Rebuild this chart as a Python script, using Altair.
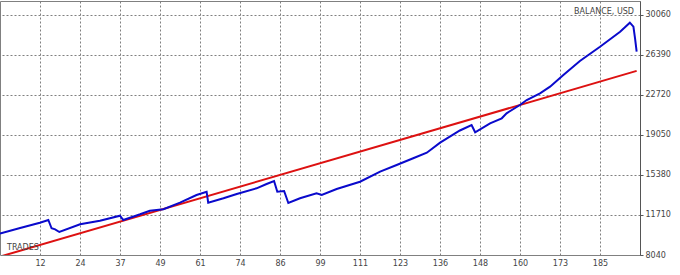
import altair as alt
import pandas as pd

# Balance curve (trade number, balance in USD)
trades = [0, 6.2, 12.3, 14.9, 15.9, 17.0, 18.3, 24.7, 30.8, 37.0, 38.0, 41.0, 43.2,
          46.2, 50.4, 55.5, 60.6, 63.7, 64.2, 68.9, 73.0, 79.1, 82.2, 84.5, 85.5,
          87.6, 88.9, 92.5, 97.6, 99.2, 103.8, 111.0, 117.2, 122.3, 127.4, 131.6,
          135.7, 141.8, 145.4, 146.5, 151.1, 154.7, 156.2, 160.3, 162.4, 166.5,
          169.6, 173.7, 178.8, 185.0, 191.2, 194.2, 195.3, 195.8, 196.3]
balance = [10000, 10517, 11004, 11251, 10490, 10398, 10150, 10857, 11187, 11646,
           11251, 11554, 11774, 12105, 12233, 12839, 13545, 13848, 12839, 13242,
           13637, 14160, 14554, 14830, 13848, 13912, 12811, 13242, 13701, 13545,
           14096, 14765, 15683, 16298, 16912, 17426, 18344, 19463, 19968, 19298,
           20123, 20582, 21041, 21803, 22261, 22876, 23482, 24555, 25840, 27152,
           28528, 29354, 28987, 27922, 26693]

# Linear trend line
trend_trades = [0, 196.3]
trend_balance = [7893, 24931]

# Axis ticks
x_tick_pos = [12.333 * k for k in range(1, 16)]
x_tick_labels = ["12", "24", "37", "49", "61", "74", "86", "99", "111", "123",
                 "136", "148", "160", "173", "185"]
y_ticks = [8040, 11710, 15380, 19050, 22720, 26390, 30060]

X_MAX = 197.33
Y_MIN, Y_MAX = 8040, 31344

bal_df = pd.DataFrame({"trade": trades, "balance": balance})
trend_df = pd.DataFrame({"trade": trend_trades, "balance": trend_balance})

label_expr = "[" + ",".join("'%s'" % s for s in x_tick_labels) + "][round(datum.value / 12.333) - 1]"

xscale = alt.Scale(domain=[0, X_MAX], nice=False, zero=False)
yscale = alt.Scale(domain=[Y_MIN, Y_MAX], nice=False, zero=False)

xaxis = alt.Axis(values=x_tick_pos, labelExpr=label_expr, title=None, grid=True,
                 gridDash=[2, 2], gridColor="#808080", gridOpacity=1,
                 domain=False, ticks=False, labelPadding=4,
                 labelFont="DejaVu Sans", labelFontSize=8, labelColor="#444444")
yaxis = alt.Axis(values=y_ticks, orient="right", title=None, grid=True, format="d",
                 gridDash=[2, 2], gridColor="#808080", gridOpacity=1,
                 domain=True, domainColor="#555555", ticks=True, tickSize=3,
                 tickColor="#555555", labelPadding=2,
                 labelFont="DejaVu Sans", labelFontSize=8, labelColor="#444444")

trend = alt.Chart(trend_df).mark_line(color="#dd1111", strokeWidth=2, clip=True).encode(
    x=alt.X("trade:Q", scale=xscale, axis=xaxis),
    y=alt.Y("balance:Q", scale=yscale, axis=yaxis),
)

bal = alt.Chart(bal_df).mark_line(color="#0a0acc", strokeWidth=2, clip=True).encode(
    x=alt.X("trade:Q", scale=xscale),
    y=alt.Y("balance:Q", scale=yscale),
)

t1 = alt.Chart(pd.DataFrame({"t": ["BALANCE, USD"]})).mark_text(
    align="right", baseline="middle", font="DejaVu Sans", fontSize=8, color="#444444"
).encode(x=alt.value(634), y=alt.value(11), text="t:N")

t2 = alt.Chart(pd.DataFrame({"t": ["TRADES"]})).mark_text(
    align="left", baseline="middle", font="DejaVu Sans", fontSize=8, color="#444444"
).encode(x=alt.value(7), y=alt.value(247), text="t:N")

chart = alt.layer(trend, bal, t1, t2).properties(
    width=640, height=254,
    autosize=alt.AutoSizeParams(type="none"),
    padding={"left": 0, "top": 1, "right": 40, "bottom": 20},
    background="white",
).configure_view(stroke="#808080", strokeWidth=1)

chart.save("out.html", embed_options={"renderer": "svg", "actions": False})
